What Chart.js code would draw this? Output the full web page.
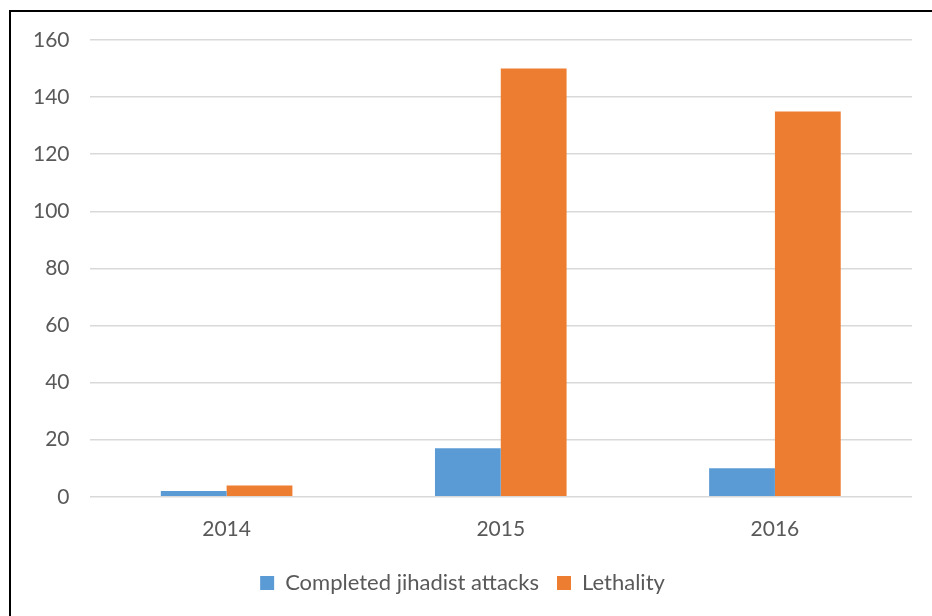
<!DOCTYPE html>
<html lang="en">
<head>
    <meta charset="UTF-8">
    <title>Completed jihadist attacks and lethality</title>
    <script src="https://cdn.jsdelivr.net/npm/chart.js"></script>
    <style>
        body{
            margin: 0;
            background: #fff;
        }
        #wrap{
            position: relative;
            width: 932px;
            height: 616px;
        }
        #marco{
            position: absolute;
            left: 9px;
            top: 10px;
            right: 0;
            bottom: 0;
            border-left: 2px solid #000;
            border-top: 2px solid #000;
            pointer-events: none;
        }
    </style>
</head>
<body>

<div id="wrap">
    <canvas id="grafica" width="932" height="616"></canvas>
    <div id="marco"></div>
</div>

<script>
    // Datos
    const years = ['2014', '2015', '2016'];
    const attacks = [2, 17, 10];
    const lethality = [4, 150, 135];

    const fuente = 'Lato, "Open Sans", sans-serif';
    const gris = '#595959';

    const config = {
        type: 'bar',
        data: {
            labels: years,
            datasets: [{
                label: 'Completed jihadist attacks',
                data: attacks,
                backgroundColor: '#5b9bd5',
                categoryPercentage: 0.48,
                barPercentage: 1
            },
            {
                label: 'Lethality',
                data: lethality,
                backgroundColor: '#ed7d31',
                categoryPercentage: 0.48,
                barPercentage: 1
            }]
        },
        options: {
            responsive: false,
            animation: false,
            layout: {
                padding: {left: 13, right: 20, top: 40, bottom: 12}
            },
            plugins: {
                tooltip: {enabled: false},
                legend: {
                    position: 'bottom',
                    labels: {
                        boxWidth: 14,
                        boxHeight: 14,
                        padding: 18,
                        color: gris,
                        font: {family: fuente, size: 22}
                    }
                }
            },
            scales: {
                x: {
                    grid: {display: false},
                    border: {display: false},
                    ticks: {
                        color: gris,
                        padding: 12,
                        font: {family: fuente, size: 21}
                    }
                },
                y: {
                    min: 0,
                    max: 160,
                    grid: {color: '#d9d9d9', lineWidth: 1.5, drawTicks: false},
                    border: {display: false},
                    ticks: {
                        stepSize: 20,
                        color: gris,
                        padding: 20,
                        font: {family: fuente, size: 21}
                    }
                }
            }
        }
    };

    const ctx = document.getElementById('grafica').getContext('2d');
    new Chart(ctx, config);
</script>

</body>
</html>
